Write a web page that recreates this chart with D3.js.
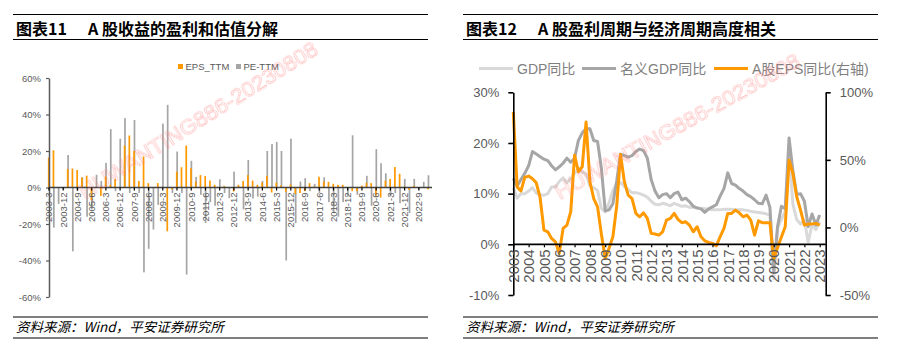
<!DOCTYPE html>
<html>
<head>
<meta charset="utf-8">
<script src="https://cdn.jsdelivr.net/npm/d3@7"></script>
<style>
  body { margin: 0; background: #fff; }
  svg { display: block; }
</style>
</head>
<body>
<svg id="chart" width="900" height="347"></svg>
<script>
// Quarter-end categories, 2003-3 … 2023-3
const quarters = [
  "2003-3","2003-6","2003-9","2003-12","2004-3","2004-6","2004-9","2004-12",
  "2005-3","2005-6","2005-9","2005-12","2006-3","2006-6","2006-9","2006-12",
  "2007-3","2007-6","2007-9","2007-12","2008-3","2008-6","2008-9","2008-12",
  "2009-3","2009-6","2009-9","2009-12","2010-3","2010-6","2010-9","2010-12",
  "2011-3","2011-6","2011-9","2011-12","2012-3","2012-6","2012-9","2012-12",
  "2013-3","2013-6","2013-9","2013-12","2014-3","2014-6","2014-9","2014-12",
  "2015-3","2015-6","2015-9","2015-12","2016-3","2016-6","2016-9","2016-12",
  "2017-3","2017-6","2017-9","2017-12","2018-3","2018-6","2018-9","2018-12",
  "2019-3","2019-6","2019-9","2019-12","2020-3","2020-6","2020-9","2020-12",
  "2021-3","2021-6","2021-9","2021-12","2022-3","2022-6","2022-9","2022-12",
  "2023-3"
];

// Figure 11: quarterly change of EPS_TTM and PE-TTM (%)
const epsTTM = [
  16.4, 20.4, 0, 0, 10.2, 10.4, 9.6, 5.6, 6.5, -7,
  0, -4.6, 6, 1.5, 4.7, 0, 23, 28.5, 20, 3.6,
  17, 2.4, 0, 2.4, 0, -24, -1, 8.7, 11.1, 23,
  10.6, 3.3, 6.8, 6.3, 3.8, 1.5, 0.3, 0.9, 0, -2.2,
  1.5, 3.6, 6.8, 3.8, 1.5, 2.7, 6.4, -2.7, 2.6, 1.2,
  -2.4, 1.7, -3.6, -3, -2, 2.4, 0.5, 5.9, 3.3, 3.1,
  2, 1.5, 1.5, 0, -2, -2, 1, 2.6, 2.4, -4.5,
  -5.5, 3.8, 4.7, 11.2, 7.5, 0.5, -1.3, 0.9, 0, 0.3,
  -1
];
const peTTM = [
  0, -22, -9, -1, 17.8, -35, -2, 5.5, -16, -12,
  7, 3.6, 13.5, 32, -2, 26.7, 38, -3, 37, -3,
  -46.5, -33.6, -23, -9.5, 35, 45.3, -3, 19.7, -3, -47.7,
  14.6, 5.8, -4, -19.5, -8, -10, 4.5, -3, -5.8, 8.7,
  0.5, -12, 15.1, -6, -5, 3.6, 20, 23.8, 24.9, 20,
  -40, 26.8, -19.5, 3.3, 5.1, -2, 2, -3, 5.6, -8,
  -14, -16, -8, -5, 28.6, -4, 0.5, 6.4, -10, 21,
  13.3, 7.8, -5, -3, -8.6, 4.7, -14, 4.7, -1, 3.1,
  6.7
];
const barTicks = [-60, -40, -20, 0, 20, 40, 60];

// Figure 12: GDP growth (left axis) and A-share EPS growth (right axis), %
const gdpReal = [
  11.1, 9.1, 10.0, 10.0, 10.5, 11.2, 10.1, 9.8,
  9.7, 10.0, 11.3, 11.3, 12.4, 13.1, 12.2, 12.9,
  14.0, 15.0, 14.3, 13.9, 11.5, 11.2, 10.6, 7.1,
  6.4, 8.2, 10.6, 11.9, 12.2, 11.4, 10.8, 10.2,
  10.2, 10.0, 9.7, 9.3, 8.5, 7.9, 7.8, 8.1,
  7.9, 7.6, 8.1, 7.8, 7.5, 7.6, 7.3, 7.3,
  7.1, 7.1, 7.0, 6.9, 6.8, 6.8, 6.8, 6.9,
  6.9, 6.9, 6.8, 6.8, 6.8, 6.7, 6.5, 6.4,
  6.3, 6.2, 6.0, 5.8, -6.8, 3.2, 4.9, 6.5,
  18.3, 7.9, 4.9, 4.0, 4.8, 0.4, 3.9, 2.9,
  4.5
];
const gdpNominal = [
  13.0, 11.5, 12.8, 14.0, 15.5, 18.3, 17.8, 17.3,
  16.8, 16.5, 15.5, 14.7, 15.3, 16.0, 17.0, 16.2,
  17.0, 20.5, 22.0, 22.8, 22.8, 20.5, 20.3, 15.0,
  6.6, 6.8, 8.0, 12.5, 17.8, 17.5, 17.2, 17.5,
  18.3, 18.8, 18.5, 17.0, 12.8, 10.5, 9.2, 9.8,
  10.0, 9.2, 10.0, 10.3, 8.8, 9.1, 8.4, 7.5,
  7.2, 7.0, 6.3, 7.0, 7.4, 7.8, 9.5, 11.0,
  14.1, 12.0, 11.7, 11.0, 10.5, 9.8, 9.4, 8.8,
  8.1, 8.0, 9.7, 7.3, -5.3, 3.5, 7.5, 7.0,
  21.0, 14.5, 9.8, 10.0, 8.5, 3.5, 6.0, 3.8,
  5.8
];
const epsYoY = [
  85.5, 30, 27, 37, 38, 36, 33, 22,
  -2, -3.2, -8.1, -10.6, -19.2, -0.7, 1.7, 11.6,
  53.5, 41.2, 44.9, 78, 33.8, 21.4, 15.3, -5,
  -23, -15.5, -6.9, 15.8, 54, 33.8, 23.9, 21.4,
  10.4, 7.9, 10.8, 6.7, -4.4, -4.9, -5.7, -3.2,
  5.4, 6.7, 10.4, 6.0, 3.5, 4.2, 1.7, -3.2,
  0.5, -6.9, -9.9, -11.1, -11.8, -13.6, -6.9, -0.7,
  10.4, 10.4, 12.8, 10.8, 7.9, 9.1, 5.4, -5.7,
  4.9, 3.5, 3.5, 3.5, -23, -15, -7, 0.5,
  49.8, 39.9, 22.7, 12.8, 1.7, 2.5, 2.5, 3.0,
  1.7
];
const gdpTicks = [-10, 0, 10, 20, 30];
const epsTicks = [-50, 0, 50, 100];
const yearLabels = ["2003","2004","2005","2006","2007","2008","2009","2010","2011","2012",
  "2013","2014","2015","2016","2017","2018","2019","2020","2021","2022","2023"];

const ORANGE = "#ff9900";
const GREY_BAR = "#a5a5a5";
const LIGHT = "#d9d9d9";
const DARK = "#a6a6a6";
const TICK_TXT = "#595959";
const LATIN = 'Arial, "Liberation Sans", sans-serif';
const CJK = '"Noto Sans CJK SC", sans-serif';

const svg = d3.select("#chart");

// ---------- headers and footers ----------
function frame(x0, x1, num, title) {
  const g = svg.append("g");
  [14.5, 39.5, 317, 338].forEach(y =>
    g.append("line").attr("x1", x0).attr("x2", x1).attr("y1", y).attr("y2", y)
      .attr("stroke", "#000").attr("stroke-width", 1.1));
  g.append("text").attr("x", x0 + 3).attr("y", 34.5)
    .attr("font-family", CJK).attr("font-weight", "bold").attr("font-size", 16)
    .attr("fill", "#000").text(num);
  g.append("text").attr("x", x0 + 75).attr("y", 34.5)
    .attr("font-family", CJK).attr("font-weight", "bold").attr("font-size", 16)
    .attr("fill", "#000").text(title);
  g.append("text").attr("x", x0 + 3).attr("y", 331.5)
    .attr("font-family", CJK).attr("font-style", "italic").attr("font-size", 13.5)
    .attr("fill", "#000").text("资料来源：Wind，平安证券研究所");
}
frame(13, 428, "图表11", "A 股收益的盈利和估值分解");
frame(463, 878, "图表12", "A 股盈利周期与经济周期高度相关");

// ---------- Figure 11: bars ----------
const xB = d3.scaleBand().domain(quarters).range([46.6, 430.7]);
const yB = d3.scaleLinear().domain([-60, 60]).range([297, 78]);
const bw = xB.bandwidth();

const bars = svg.append("g");
bars.selectAll("rect.pe").data(peTTM).join("rect").attr("class", "pe")
  .attr("x", (d, i) => xB(quarters[i]) + bw / 2 - 0.7)
  .attr("width", 1.7)
  .attr("y", d => yB(Math.max(0, d)))
  .attr("height", d => Math.abs(yB(d) - yB(0)))
  .attr("fill", GREY_BAR);
bars.selectAll("rect.eps").data(epsTTM).join("rect").attr("class", "eps")
  .attr("x", (d, i) => xB(quarters[i]) + bw / 2 - 1.1)
  .attr("width", 1.7)
  .attr("y", d => yB(Math.max(0, d)))
  .attr("height", d => Math.abs(yB(d) - yB(0)))
  .attr("fill", ORANGE);

// y axis
const yAxB = svg.append("g").attr("transform", "translate(49,0)")
  .call(d3.axisLeft(yB).tickValues(barTicks).tickFormat(d => d + "%").tickSize(3).tickSizeOuter(0).tickPadding(5));
yAxB.select(".domain").attr("stroke", "#595959").attr("stroke-width", 1.5);
yAxB.selectAll(".tick line").attr("stroke", "#595959").attr("stroke-width", 1.2);
yAxB.selectAll("text").attr("font-family", LATIN).attr("font-size", 9.5).attr("fill", TICK_TXT);

// x axis along zero line
const xAxB = svg.append("g").attr("transform", `translate(0,${yB(0)})`)
  .call(d3.axisBottom(xB).tickValues(quarters.filter((d, i) => i % 3 === 0)).tickSize(3).tickSizeOuter(0));
xAxB.select(".domain").attr("stroke", "#404040").attr("stroke-width", 1.5)
  .attr("d", "M49,0H432");
xAxB.selectAll(".tick line").attr("stroke", "#000").attr("stroke-width", 1.2);
xAxB.selectAll("text")
  .attr("font-family", LATIN).attr("font-size", 9.5).attr("fill", TICK_TXT)
  .attr("transform", "rotate(-90)").attr("text-anchor", "end")
  .attr("x", -5).attr("y", 0).attr("dy", "0.35em");

// legend
const legB = svg.append("g").attr("font-family", LATIN).attr("font-size", 9.5).attr("fill", TICK_TXT);
legB.append("rect").attr("x", 178).attr("y", 64).attr("width", 5).attr("height", 5).attr("fill", ORANGE);
legB.append("text").attr("x", 185.5).attr("y", 69.5).text("EPS_TTM");
legB.append("rect").attr("x", 236).attr("y", 64).attr("width", 5).attr("height", 5).attr("fill", GREY_BAR);
legB.append("text").attr("x", 243.5).attr("y", 69.5).text("PE-TTM");

// ---------- Figure 12: lines ----------
const xL = d3.scalePoint().domain(quarters).range([513.3, 819.7]);
const yLeft = d3.scaleLinear().domain([-10, 30]).range([295, 92.3]);
const yRight = d3.scaleLinear().domain([-50, 100]).range([295, 92.3]);

const lineLeft = d3.line().x((d, i) => xL(quarters[i])).y(d => yLeft(d));
const lineRight = d3.line().x((d, i) => xL(quarters[i])).y(d => yRight(d));

const lines = svg.append("g").attr("fill", "none").attr("stroke-width", 3)
  .attr("stroke-linejoin", "round").attr("stroke-linecap", "butt");
lines.append("path").attr("d", lineLeft(gdpReal)).attr("stroke", LIGHT);
lines.append("path").attr("d", lineLeft(gdpNominal)).attr("stroke", DARK);
lines.append("path").attr("d", lineRight(epsYoY)).attr("stroke", ORANGE);

// left axis
const axL = svg.append("g").attr("transform", "translate(513.3,0)")
  .call(d3.axisLeft(yLeft).tickValues(gdpTicks).tickFormat(d => d + "%").tickSize(5).tickSizeOuter(0).tickPadding(9));
// right axis
const axR = svg.append("g").attr("transform", "translate(825.7,0)")
  .call(d3.axisRight(yRight).tickValues(epsTicks).tickFormat(d => d + "%").tickSize(5).tickSizeOuter(0).tickPadding(9));
[axL, axR].forEach(a => {
  a.select(".domain").attr("stroke", "#000").attr("stroke-width", 1.6);
  a.selectAll(".tick line").attr("stroke", "#000").attr("stroke-width", 1.6);
  a.selectAll("text").attr("font-family", LATIN).attr("font-size", 13).attr("fill", TICK_TXT);
});

// x axis on the 0% line of the left scale
const yearTicks = quarters.filter((d, i) => i % 4 === 0);
const axX = svg.append("g").attr("transform", `translate(0,${yLeft(0)})`)
  .call(d3.axisBottom(xL).tickValues(yearTicks).tickSize(3).tickSizeOuter(0)
    .tickFormat((d, i) => yearLabels[i]));
axX.select(".domain").attr("stroke", "#000").attr("stroke-width", 1.6).attr("d", "M513.3,0H825.7");
axX.selectAll(".tick line").attr("stroke", "#000").attr("stroke-width", 1.2);
axX.selectAll("text")
  .attr("font-family", LATIN).attr("font-size", 15).attr("fill", TICK_TXT)
  .attr("transform", "rotate(-90)").attr("text-anchor", "end")
  .attr("x", -5).attr("y", 0).attr("dy", "0.35em");

// legend
const legL = svg.append("g").attr("font-family", LATIN + ', "Noto Sans CJK SC"').attr("font-size", 14).attr("fill", "#7f7f7f");
[[479, 513, LIGHT, 517, "GDP同比"], [582, 616, DARK, 620, "名义GDP同比"], [714, 748, ORANGE, 752, "A股EPS同比(右轴)"]]
  .forEach(([a, b, c, tx, label]) => {
    legL.append("line").attr("x1", a).attr("x2", b).attr("y1", 68.5).attr("y2", 68.5)
      .attr("stroke", c).attr("stroke-width", 3);
    legL.append("text").attr("x", tx).attr("y", 73.5).text(label);
  });

// ---------- watermark ----------
const wm = svg.append("g").attr("font-family", LATIN).attr("font-size", 22)
  .attr("fill", "none").attr("stroke", "#ff8080").attr("stroke-width", 0.6).attr("opacity", 0.6);
wm.append("text").attr("transform", "translate(85,200) rotate(-32)").text("HUWANTING886-20230808");
wm.append("text").attr("transform", "translate(560,200) rotate(-29)").text("HUWANTING886-20230808");
</script>
</body>
</html>
